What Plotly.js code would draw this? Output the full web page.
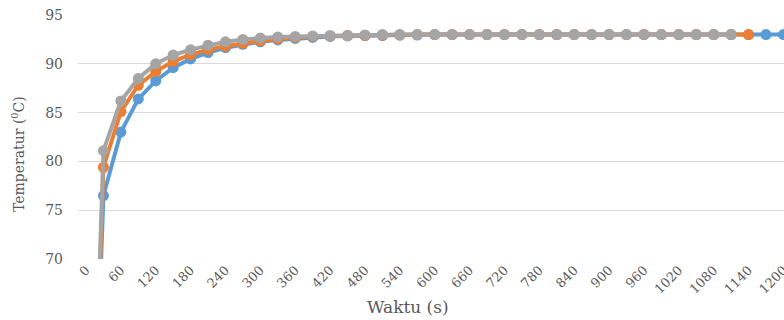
<!DOCTYPE html>
<html>
<head>
<meta charset="utf-8">
<script src="https://cdn.plot.ly/plotly-3.0.1.min.js"></script>
<style>html,body{margin:0;padding:0;background:#fff;overflow:hidden}#chart{width:784px;height:320px}</style>
</head>
<body>
<div id="chart"></div>
<script>
// Time (s), every 30 s
const time = [0,30,60,90,120,150,180,210,240,270,300,330,360,390,420,450,480,510,540,570,600,630,660,690,720,750,780,810,840,870,900,930,960,990,1020,1050,1080,1110,1140,1170,1200];
// Series values (°C)
const seriesBlue = [27,76.5,83.0,86.4,88.25,89.6,90.5,91.15,91.65,92.0,92.25,92.45,92.6,92.7,92.8,92.85,92.9,92.9,92.95,92.95,93.0,93.0,93.0,93.0,93.0,93.0,93.0,93.0,93.0,93.0,93.0,93.0,93.0,93.0,93.0,93.0,93.0,93.0,93.0,93.0,93.0];
const seriesOrange = [27,79.4,85.1,87.8,89.2,90.25,90.95,91.45,91.8,92.1,92.35,92.55,92.7,92.8,92.85,92.9,92.9,92.95,92.95,93.0,93.0,93.0,93.0,93.0,93.0,93.0,93.0,93.0,93.0,93.0,93.0,93.0,93.0,93.0,93.0,93.0,93.0,93.0,93.0];
const seriesGray = [27,81.1,86.2,88.5,90.0,90.9,91.45,91.9,92.25,92.5,92.65,92.75,92.8,92.85,92.9,92.9,92.95,93.0,93.0,93.0,93.0,93.0,93.0,93.0,93.0,93.0,93.0,93.0,93.0,93.0,93.0,93.0,93.0,93.0,93.0,93.0,93.0,93.0];
// Tick labels
const xTickVals = [0,60,120,180,240,300,360,420,480,540,600,660,720,780,840,900,960,1020,1080,1140,1200];
const xTickText = xTickVals.map(String);
const yTickVals = [70,75,80,85,90,95];

const colors = ['#5B9BD5','#ED7D31','#A5A5A5'];
const series = [seriesBlue, seriesOrange, seriesGray];

const traces = series.map((s, i) => ({
  x: time.slice(0, s.length),
  y: s,
  type: 'scatter',
  mode: 'lines+markers',
  line: {color: colors[i], width: 4},
  marker: {color: colors[i], size: 11},
  showlegend: false
}));

const fam = 'DejaVu Serif';
const col = '#595959';

const layout = {
  width: 784,
  height: 320,
  margin: {l: 78, r: 0, t: 15, b: 61},
  paper_bgcolor: '#ffffff',
  plot_bgcolor: '#ffffff',
  font: {family: fam, color: col, size: 14},
  xaxis: {
    range: [-13.75, 1201],
    tickvals: xTickVals,
    ticktext: xTickText,
    tickangle: -45,
    ticklabeloverflow: 'allow',
    tickfont: {family: fam, color: col, size: 13},
    showgrid: false,
    zeroline: false,
    showline: false,
    ticks: ''
  },
  yaxis: {
    range: [70, 95],
    tickvals: yTickVals,
    tickfont: {family: fam, color: col, size: 14},
    showgrid: true,
    gridcolor: '#D9D9D9',
    gridwidth: 1,
    zeroline: false,
    showline: false,
    ticks: '',
    ticklabelstandoff: 14
  },
  annotations: [
    {
      text: 'Temperatur (<sup>0</sup>C)',
      xref: 'paper', yref: 'paper',
      x: -60/706, y: (259-154)/244,
      xanchor: 'center', yanchor: 'middle',
      textangle: -90,
      showarrow: false,
      font: {family: fam, color: col, size: 14}
    },
    {
      text: 'Waktu (s)',
      xref: 'paper', yref: 'paper',
      x: (408-78)/706, y: -(307-259)/244,
      xanchor: 'center', yanchor: 'middle',
      showarrow: false,
      font: {family: fam, color: col, size: 17}
    }
  ]
};

Plotly.newPlot('chart', traces, layout, {displayModeBar: false, staticPlot: true});
</script>
</body>
</html>
